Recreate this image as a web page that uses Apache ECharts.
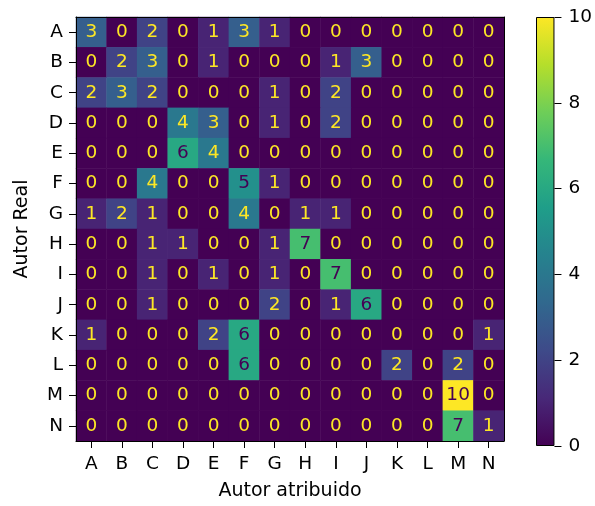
<!DOCTYPE html>
<html>
<head>
<meta charset="utf-8">
<script src="https://cdn.jsdelivr.net/npm/echarts@6/dist/echarts.min.js"></script>
<style>
html,body{margin:0;padding:0;background:#fff;}
#chart{width:595px;height:506px;}
</style>
</head>
<body>
<div id="chart"></div>
<script>
const categories = ['A','B','C','D','E','F','G','H','I','J','K','L','M','N'];
const rowA = [3,0,2,0,1,3,1,0,0,0,0,0,0,0];
const rowB = [0,2,3,0,1,0,0,0,1,3,0,0,0,0];
const rowC = [2,3,2,0,0,0,1,0,2,0,0,0,0,0];
const rowD = [0,0,0,4,3,0,1,0,2,0,0,0,0,0];
const rowE = [0,0,0,6,4,0,0,0,0,0,0,0,0,0];
const rowF = [0,0,4,0,0,5,1,0,0,0,0,0,0,0];
const rowG = [1,2,1,0,0,4,0,1,1,0,0,0,0,0];
const rowH = [0,0,1,1,0,0,1,7,0,0,0,0,0,0];
const rowI = [0,0,1,0,1,0,1,0,7,0,0,0,0,0];
const rowJ = [0,0,1,0,0,0,2,0,1,6,0,0,0,0];
const rowK = [1,0,0,0,2,6,0,0,0,0,0,0,0,1];
const rowL = [0,0,0,0,0,6,0,0,0,0,2,0,2,0];
const rowM = [0,0,0,0,0,0,0,0,0,0,0,0,10,0];
const rowN = [0,0,0,0,0,0,0,0,0,0,0,0,7,1];
const colorbarTicks = [0,2,4,6,8,10];

const rows = [rowA,rowB,rowC,rowD,rowE,rowF,rowG,rowH,rowI,rowJ,rowK,rowL,rowM,rowN];
const viridis = ['#440154','#482878','#3e4a89','#31688e','#26828e','#1f9e89','#35b779','#6ece58','#b5de2b','#fde725'];
const vmin = 0, vmax = 10;
const thresh = (vmin + vmax) / 2;

const data = [];
rows.forEach((r, yi) => r.forEach((v, xi) => {
  data.push({value:[xi, yi, v], label:{color: v < thresh ? '#fde725' : '#440154'}});
}));

const font = 'DejaVu Sans';
const fs = 18.5;
const chart = echarts.init(document.getElementById('chart'), null, {renderer:'canvas'});
chart.setOption({
  animation:false,
  backgroundColor:'#fff',
  textStyle:{fontFamily:font},
  grid:[
    {left:76, top:17, width:428, height:429, containLabel:false},
    {left:536, top:17, width:23, height:429, containLabel:false}
  ],
  xAxis:[
    {type:'category', gridIndex:0, data:categories, position:'bottom',
     name:'Autor atribuido', nameLocation:'middle', nameGap:41,
     nameTextStyle:{fontFamily:font, fontSize:19, color:'#000'},
     axisLine:{show:true, lineStyle:{color:'#000', width:1}},
     axisTick:{show:true, alignWithLabel:true, length:7, lineStyle:{color:'#000'}},
     axisLabel:{fontFamily:font, fontSize:fs, color:'#000', margin:14},
     splitLine:{show:false}, splitArea:{show:false}, z:10},
    {type:'category', gridIndex:0, data:categories, position:'top',
     axisLine:{show:true, lineStyle:{color:'#000', width:1}},
     axisTick:{show:false}, axisLabel:{show:false}, z:10},
    {type:'category', gridIndex:1, data:[''],
     axisLine:{show:false}, axisTick:{show:false}, axisLabel:{show:false}}
  ],
  yAxis:[
    {type:'category', gridIndex:0, data:categories, inverse:true, position:'left',
     name:'Autor Real', nameLocation:'middle', nameGap:44, nameRotate:90,
     nameTextStyle:{fontFamily:font, fontSize:19, color:'#000'},
     axisLine:{show:true, lineStyle:{color:'#000', width:1}},
     axisTick:{show:true, alignWithLabel:true, length:7, lineStyle:{color:'#000'}},
     axisLabel:{fontFamily:font, fontSize:fs, color:'#000', margin:13},
     splitLine:{show:false}, splitArea:{show:false}, z:10},
    {type:'category', gridIndex:0, data:categories, inverse:true, position:'right',
     axisLine:{show:true, lineStyle:{color:'#000', width:1}},
     axisTick:{show:false}, axisLabel:{show:false}, z:10},
    {type:'value', gridIndex:1, min:colorbarTicks[0], max:colorbarTicks[colorbarTicks.length-1],
     interval:colorbarTicks[1]-colorbarTicks[0], position:'right',
     axisLine:{show:false},
     axisTick:{show:true, length:7, lineStyle:{color:'#000'}},
     axisLabel:{fontFamily:font, fontSize:fs, color:'#000', margin:14},
     splitLine:{show:false}}
  ],
  visualMap:{type:'continuous', show:false, min:vmin, max:vmax, seriesIndex:0,
    inRange:{color:viridis}},
  series:[
    {type:'heatmap', xAxisIndex:0, yAxisIndex:0, data:data,
     label:{show:true, fontFamily:font, fontSize:fs, formatter:p => p.value[2]},
     itemStyle:{borderWidth:0}},
    {type:'bar', xAxisIndex:2, yAxisIndex:2, data:[vmax], barWidth:'100%', silent:true,
     itemStyle:{
       color:new echarts.graphic.LinearGradient(0,0,0,1,
         viridis.slice().reverse().map((c,i,a)=>({offset:i/(a.length-1), color:c}))),
       borderColor:'#000', borderWidth:1}}
  ]
});
</script>
</body>
</html>
